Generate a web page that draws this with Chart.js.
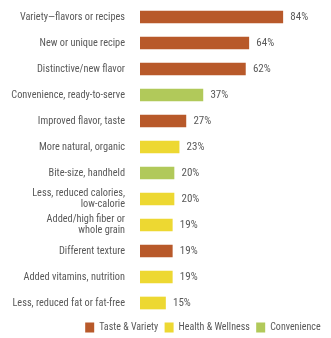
<!DOCTYPE html>
<html><head><meta charset="utf-8">
<script src="https://cdn.jsdelivr.net/npm/chart.js@4/dist/chart.umd.min.js"></script>
<style>html,body{margin:0;padding:0;background:#fff}canvas{display:block}</style>
</head><body>
<canvas id="c" width="331" height="338"></canvas>
<script>
const categories = [
  "Variety\u2014flavors or recipes",
  "New or unique recipe",
  "Distinctive/new flavor",
  "Convenience, ready-to-serve",
  "Improved flavor, taste",
  "More natural, organic",
  "Bite-size, handheld",
  ["Less, reduced calories,", "low-calorie"],
  ["Added/high fiber or", "whole grain"],
  "Different texture",
  "Added vitamins, nutrition",
  "Less, reduced fat or fat-free"
];
const values = [84, 64, 62, 37, 27, 23, 20, 20, 19, 19, 19, 15];
const groups = ["Taste & Variety","Taste & Variety","Taste & Variety","Convenience","Taste & Variety","Health & Wellness","Convenience","Health & Wellness","Health & Wellness","Taste & Variety","Health & Wellness","Health & Wellness"];
const groupNames = ["Taste & Variety", "Health & Wellness", "Convenience"];
const groupColors = {"Taste & Variety":"#B8592A","Health & Wellness":"#EDD832","Convenience":"#B1C95A"};

const FONT = "'Roboto Condensed', 'DejaVu Sans Condensed', sans-serif";
const TXT = "#595959";

const valueLabels = {
  id: 'valueLabels',
  afterDatasetsDraw(chart) {
    const ctx = chart.ctx;
    const meta = chart.getDatasetMeta(0);
    ctx.save();
    ctx.font = "11px " + FONT;
    ctx.fillStyle = TXT;
    ctx.textBaseline = 'middle';
    ctx.textAlign = 'left';
    meta.data.forEach((bar, i) => {
      ctx.fillText(values[i] + '%', bar.x + 7.5, bar.y + 0.5);
    });
    ctx.restore();
  }
};

new Chart(document.getElementById('c'), {
  type: 'bar',
  data: {
    labels: categories,
    datasets: [{
      data: values,
      backgroundColor: groups.map(g => groupColors[g]),
      barThickness: 12,
      borderWidth: 0
    }]
  },
  options: {
    indexAxis: 'y',
    responsive: false,
    animation: false,
    layout: { padding: { top: 4, right: 4, left: 0, bottom: -4.4 } },
    scales: {
      x: { display: false, min: 0, max: 110 },
      y: {
        grid: { display: false },
        border: { display: false },
        ticks: { color: TXT, font: { family: FONT, size: 10.3, lineHeight: 1.15 }, padding: 7, autoSkip: false },
        afterFit(scale) { scale.width = 140; scale.paddingTop = 0; scale.paddingBottom = 0; }
      }
    },
    plugins: {
      tooltip: { enabled: false },
      legend: {
        position: 'bottom',
        align: 'end',
        labels: {
          font: { family: FONT, size: 10 },
          color: TXT,
          boxWidth: 9,
          boxHeight: 10,
          padding: 6.4,
          generateLabels() {
            return groupNames.map(n => ({ text: n, fillStyle: groupColors[n], strokeStyle: groupColors[n], lineWidth: 0, hidden: false, fontColor: TXT }));
          }
        }
      }
    }
  },
  plugins: [valueLabels]
});
</script>
</body></html>
